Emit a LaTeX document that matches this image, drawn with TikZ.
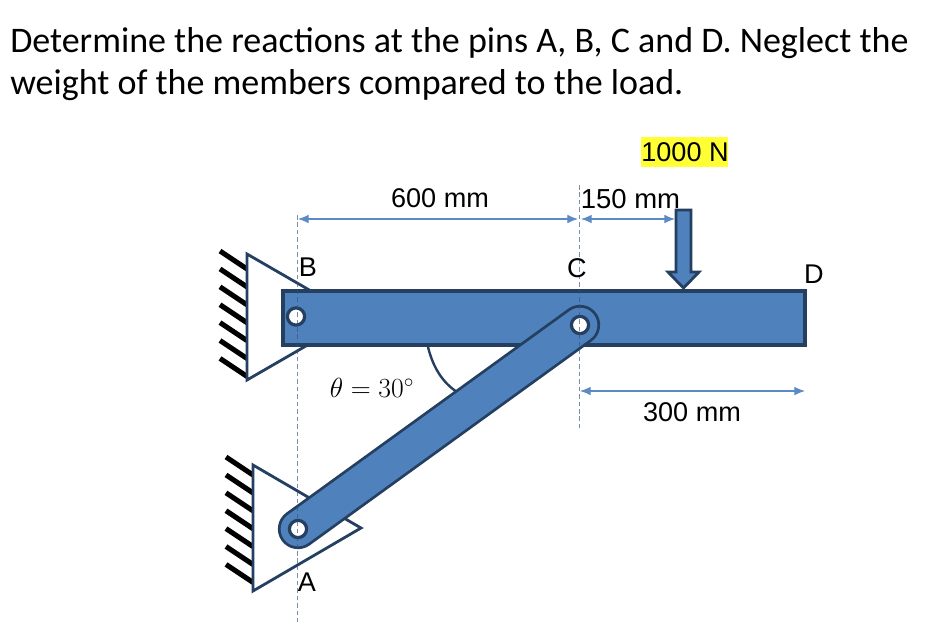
\documentclass[tikz,border=0pt]{standalone}
\usepackage{fontspec}
\setmainfont{Liberation Sans}
\newfontfamily\titlefont{Carlito}
\usetikzlibrary{arrows.meta,calc}
\definecolor{memberblue}{HTML}{4F81BD}
\definecolor{memberedge}{HTML}{243F60}
\definecolor{dimblue}{HTML}{5B8AC5}
\definecolor{hiyellow}{HTML}{FFFF33}
\tikzset{
  x=0.75pt,y=-0.75pt,
  edge/.style={draw=memberedge,line width=2.1pt,line join=miter},
  hatchline/.style={black,line width=3.8pt},
  dimline/.style={dimblue,line width=0.8pt,{Latex[length=8pt,width=6.5pt]}-{Latex[length=8pt,width=6.5pt]}},
  guide/.style={memberedge!75!dimblue,opacity=0.65,line width=0.7pt,dash pattern=on 3.4pt off 2.2pt},
  lbl/.style={font=\fontsize{20.3}{24}\selectfont,inner sep=0pt,text=black},
  ttl/.style={font=\titlefont\fontsize{27}{32}\selectfont,inner sep=0pt,anchor=base west},
  hole/.style={circle,draw=memberedge,line width=2.4pt,fill=white,minimum size=12.9pt,inner sep=0pt}
}
\begin{document}
\begin{tikzpicture}
\useasboundingbox (0,0) rectangle (934,622);
\node[ttl] (title1) at (10,52) {Determine the reactions at the pins A, B, C and D. Neglect the};
\node[ttl] (title2) at (10,94) {weight of the members compared to the load.};
% hatching
\foreach \i in {0,...,6}{
  \draw[hatchline] (220,{251+17.9*\i}) -- (247,{269+17.9*\i});
  \draw[hatchline] (226,{457+17.9*\i}) -- (253,{475+17.9*\i});
}
% supports
\draw[edge,fill=white] (247,254) -- (247,380) -- (356,317) -- cycle;
\draw[edge,fill=white] (253,465) -- (253,591) -- (361,528) -- cycle;
% bar
\node[draw=memberedge,line width=2.7pt,fill=memberblue,minimum width=391.5pt,minimum height=40.5pt,inner sep=0pt,anchor=center] (bar) at (544,318) {};
% link
\coordinate (pinA) at (298,529);
\coordinate (pinC) at (580,325);
\coordinate (pinB) at (296,316.5);
\draw[memberedge,line width=30.2pt,line cap=round] (pinA) -- (pinC);
\draw[memberblue,line width=26pt,line cap=round] (pinA) -- (pinC);
% angle
\draw[memberedge,line width=1.8pt] (428,347) .. controls (433,367) and (442,382) .. (457,392);
% pins
\node[hole] (holeB) at (pinB) {};
\node[hole] (holeA) at (pinA) {};
\node[hole] (holeC) at (pinC) {};
% guides
\coordinate (gBt) at (297.5,215);
\coordinate (gBb) at (297.5,622);
\coordinate (gCt) at (579.5,185);
\coordinate (gCb) at (579.5,428);
\draw[guide] (gBt) -- (gBb);
\draw[guide] (gCt) -- (gCb);
% dims
\coordinate (d1) at (298,219);
\coordinate (d2) at (578,219);
\coordinate (d3) at (581,219);
\coordinate (d4) at (675,219);
\coordinate (d5) at (580,391);
\coordinate (d6) at (805,391);
\draw[dimline] (d1) -- (d2);
\draw[dimline] (d3) -- (d4);
\draw[dimline] (d5) -- (d6);
% force arrow
\draw[edge,fill=memberblue] (676,210) -- (691,210) -- (691,272) -- (699,272) -- (683.5,288) -- (668,272) -- (676,272) -- cycle;
% labels
\node[fill=hiyellow,minimum width=65.5pt,minimum height=22.5pt,inner sep=0pt] (load) at (684.5,152) {};
\node[lbl] (t1000) at (685,152) {1000 N};
\node[lbl] (t600) at (440,198) {600 mm};
\node[lbl,font=\fontsize{20.6}{24}\selectfont] (t150) at (630.5,199) {150 mm};
\node[lbl] (t300) at (692,412) {300 mm};
\node[lbl] (tB) at (308,267) {B};
\node[lbl] (tC) at (577,268) {C};
\node[lbl] (tD) at (814,274) {D};
\node[lbl] (tA) at (307,582) {A};
\node[inner sep=0pt,font=\fontsize{20}{24}\selectfont] (tTheta) at (372,388) {$\theta=30^\circ$};
\end{tikzpicture}
\end{document}
